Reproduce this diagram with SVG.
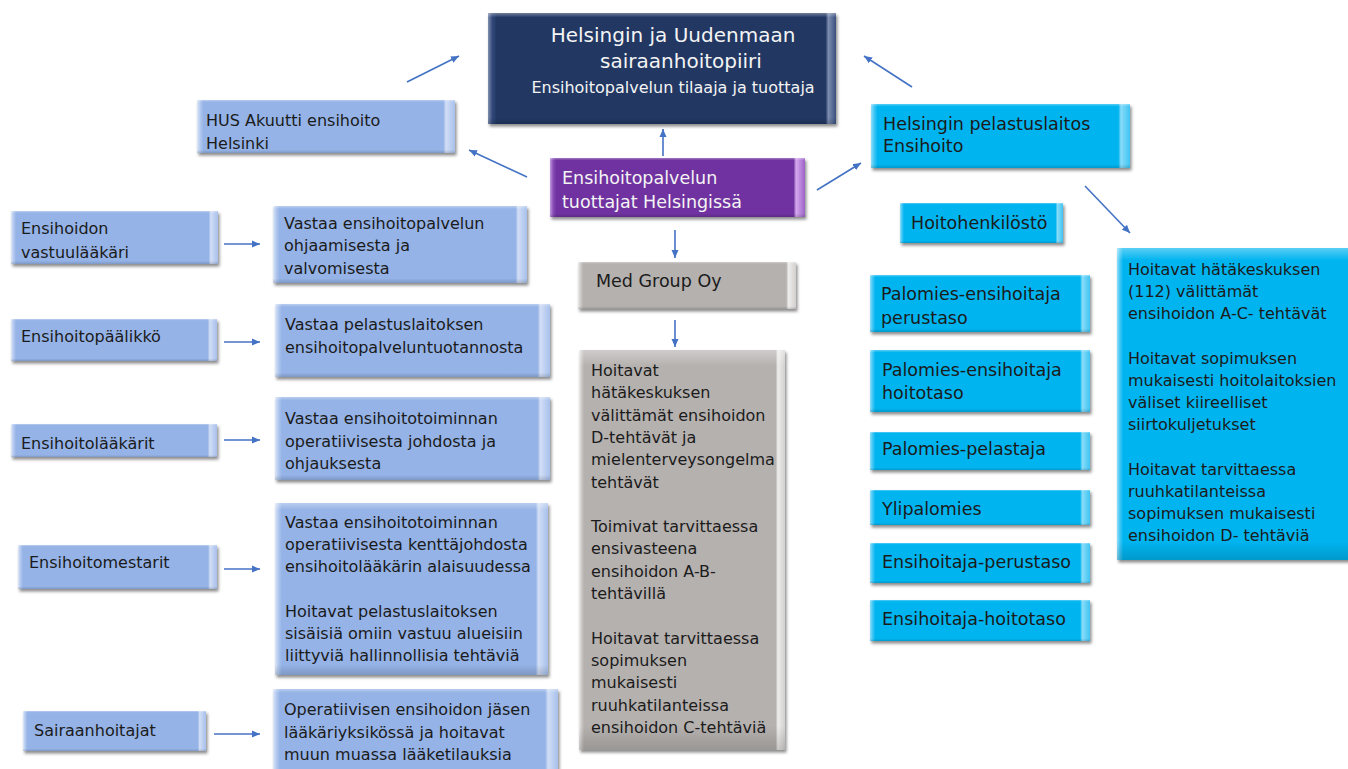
<svg xmlns="http://www.w3.org/2000/svg" width="1348" height="769" viewBox="0 0 1348 769">
<style>
text{font-family:"DejaVu Sans","Liberation Sans",sans-serif;fill:#1b1b1b;font-size:16px}
.w{fill:#f4f4f4}
.big{font-size:17.5px}
.t20{font-size:20px}
.box{filter:url(#sh)}
.lb{fill:url(#gLb)}
.cy{fill:url(#gCy)}
.gr{fill:url(#gGr)}
.pu{fill:url(#gPu)}
.nv{fill:url(#gNv)}
.top{fill:url(#gTop)}
.con line{stroke:#4472C4;stroke-width:1.6;marker-end:url(#ah)}
</style>
<defs>
<filter id="sh" x="-10%" y="-10%" width="125%" height="130%">
<feDropShadow dx="1.5" dy="2.5" stdDeviation="1.5" flood-color="#000" flood-opacity="0.45"/>
</filter>
<linearGradient id="gLb" x1="0" y1="0" x2="1" y2="0">
<stop offset="0" stop-color="#dfe8f8"/><stop offset="0.012" stop-color="#b3c9ee"/><stop offset="0.025" stop-color="#95B3E7"/><stop offset="0.955" stop-color="#95B3E7"/><stop offset="0.965" stop-color="#d2def5"/><stop offset="1" stop-color="#a7c0ec"/>
</linearGradient>
<linearGradient id="gCy" x1="0" y1="0" x2="1" y2="0">
<stop offset="0" stop-color="#8fe0fb"/><stop offset="0.012" stop-color="#40c6f4"/><stop offset="0.025" stop-color="#00B4F0"/><stop offset="0.955" stop-color="#00B4F0"/><stop offset="0.965" stop-color="#8adcf8"/><stop offset="1" stop-color="#3fc4f3"/>
</linearGradient>
<linearGradient id="gGr" x1="0" y1="0" x2="1" y2="0">
<stop offset="0" stop-color="#ecebea"/><stop offset="0.012" stop-color="#cdcac8"/><stop offset="0.025" stop-color="#B5B1AF"/><stop offset="0.955" stop-color="#B5B1AF"/><stop offset="0.965" stop-color="#eeedec"/><stop offset="1" stop-color="#d3d0cf"/>
</linearGradient>
<linearGradient id="gPu" x1="0" y1="0" x2="1" y2="0">
<stop offset="0" stop-color="#c39be0"/><stop offset="0.012" stop-color="#8a4fb8"/><stop offset="0.025" stop-color="#7030A0"/><stop offset="0.955" stop-color="#7030A0"/><stop offset="0.965" stop-color="#d6a9ef"/><stop offset="1" stop-color="#9c62c8"/>
</linearGradient>
<linearGradient id="gNv" x1="0" y1="0" x2="1" y2="0">
<stop offset="0" stop-color="#8090b0"/><stop offset="0.012" stop-color="#34497a"/><stop offset="0.025" stop-color="#203864"/><stop offset="0.97" stop-color="#203864"/><stop offset="0.978" stop-color="#7d8db0"/><stop offset="1" stop-color="#3a507e"/>
</linearGradient>
<linearGradient id="gTop" x1="0" y1="0" x2="0" y2="1">
<stop offset="0" stop-color="#fff" stop-opacity="0.35"/><stop offset="0.04" stop-color="#fff" stop-opacity="0"/><stop offset="0.94" stop-color="#000" stop-opacity="0"/><stop offset="1" stop-color="#000" stop-opacity="0.15"/>
</linearGradient>
<marker id="ah" markerUnits="userSpaceOnUse" markerWidth="9" markerHeight="8" refX="8" refY="4" orient="auto">
<path d="M0,0.5 L8,4 L0,7.5 z" fill="#4472C4"/>
</marker>
</defs>

<g id="connectors" class="con">
<line x1="407" y1="82" x2="459" y2="56"/>
<line x1="527" y1="177" x2="469" y2="150"/>
<line x1="663" y1="156" x2="663" y2="129"/>
<line x1="817" y1="190" x2="861" y2="163"/>
<line x1="912" y1="87" x2="864" y2="56"/>
<line x1="675" y1="230" x2="675" y2="258"/>
<line x1="675" y1="320" x2="675" y2="347"/>
<line x1="1085" y1="186" x2="1130" y2="233"/>
<line x1="224" y1="244" x2="260" y2="244"/>
<line x1="224" y1="342" x2="260" y2="342"/>
<line x1="224" y1="440" x2="260" y2="440"/>
<line x1="224" y1="569" x2="260" y2="569"/>
<line x1="214" y1="734" x2="260" y2="734"/>
</g>

<g id="hus-piiri">
<rect class="box nv" x="488" y="13" width="348" height="111"/>
<rect class="top" x="488" y="13" width="348" height="111"/>
<text class="w t20" x="673" y="42" text-anchor="middle">Helsingin ja Uudenmaan</text>
<text class="w t20" x="681" y="68" text-anchor="middle">sairaanhoitopiiri</text>
<text class="w" x="673" y="93" text-anchor="middle">Ensihoitopalvelun tilaaja ja tuottaja</text>
</g>

<g id="hus-akuutti">
<rect class="box lb" x="197" y="100" width="258" height="53"/>
<rect class="top" x="197" y="100" width="258" height="53"/>
<text x="206" y="126">HUS Akuutti ensihoito<tspan x="206" y="149">Helsinki</tspan></text>
</g>

<g id="tuottajat">
<rect class="box pu" x="550" y="158" width="255" height="59"/>
<rect class="top" x="550" y="158" width="255" height="59"/>
<text class="w big" x="562" y="184">Ensihoitopalvelun<tspan x="562" y="208">tuottajat Helsingissä</tspan></text>
</g>

<g id="pelastuslaitos">
<rect class="box cy" x="871" y="104" width="259" height="64"/>
<rect class="top" x="871" y="104" width="259" height="64"/>
<text class="big" x="883" y="129.5">Helsingin pelastuslaitos<tspan x="883" y="151.5">Ensihoito</tspan></text>
</g>

<g id="hoitohenkilosto">
<rect class="box cy" x="900" y="203" width="163" height="40"/>
<rect class="top" x="900" y="203" width="163" height="40"/>
<text class="big" x="911" y="228.5">Hoitohenkilöstö</text>
</g>

<g id="pe-perustaso">
<rect class="box cy" x="870" y="275" width="220" height="57"/>
<rect class="top" x="870" y="275" width="220" height="57"/>
<text class="big" x="881" y="299.5">Palomies-ensihoitaja<tspan x="881" y="323.5">perustaso</tspan></text>
</g>

<g id="pe-hoitotaso">
<rect class="box cy" x="870" y="350" width="220" height="62"/>
<rect class="top" x="870" y="350" width="220" height="62"/>
<text class="big" x="882" y="375.5">Palomies-ensihoitaja<tspan x="882" y="398.5">hoitotaso</tspan></text>
</g>

<g id="palomies-pelastaja">
<rect class="box cy" x="870" y="432" width="220" height="38"/>
<rect class="top" x="870" y="432" width="220" height="38"/>
<text class="big" x="882" y="454.5">Palomies-pelastaja</text>
</g>

<g id="ylipalomies">
<rect class="box cy" x="870" y="490" width="220" height="35"/>
<rect class="top" x="870" y="490" width="220" height="35"/>
<text class="big" x="882" y="514.5">Ylipalomies</text>
</g>

<g id="ensihoitaja-perustaso">
<rect class="box cy" x="870" y="543" width="220" height="40"/>
<rect class="top" x="870" y="543" width="220" height="40"/>
<text class="big" x="882" y="567.5">Ensihoitaja-perustaso</text>
</g>

<g id="ensihoitaja-hoitotaso">
<rect class="box cy" x="870" y="600" width="220" height="41"/>
<rect class="top" x="870" y="600" width="220" height="41"/>
<text class="big" x="882" y="624.5">Ensihoitaja-hoitotaso</text>
</g>

<g id="pelastus-tehtavat">
<rect class="box cy" x="1117" y="248" width="250" height="312"/>
<rect class="top" x="1117" y="248" width="250" height="312"/>
<text x="1128" y="275">Hoitavat hätäkeskuksen<tspan x="1128" dy="22.2">(112) välittämät</tspan><tspan x="1128" dy="22.2">ensihoidon A-C- tehtävät</tspan><tspan x="1128" dy="44.4">Hoitavat sopimuksen</tspan><tspan x="1128" dy="22.2">mukaisesti hoitolaitoksien</tspan><tspan x="1128" dy="22.2">väliset kiireelliset</tspan><tspan x="1128" dy="22.2">siirtokuljetukset</tspan><tspan x="1128" dy="44.4">Hoitavat tarvittaessa</tspan><tspan x="1128" dy="22.2">ruuhkatilanteissa</tspan><tspan x="1128" dy="22.2">sopimuksen mukaisesti</tspan><tspan x="1128" dy="22.2">ensihoidon D- tehtäviä</tspan></text>
</g>

<g id="med-group">
<rect class="box gr" x="578" y="262" width="218" height="47"/>
<rect class="top" x="578" y="262" width="218" height="47"/>
<text class="big" x="596" y="286.5">Med Group Oy</text>
</g>

<g id="med-group-tehtavat">
<rect class="box gr" x="579" y="350" width="206" height="400"/>
<rect class="top" x="579" y="350" width="206" height="400"/>
<text x="591" y="376">Hoitavat<tspan x="591" dy="22.3">hätäkeskuksen</tspan><tspan x="591" dy="22.3">välittämät ensihoidon</tspan><tspan x="591" dy="22.3">D-tehtävät ja</tspan><tspan x="591" dy="22.3">mielenterveysongelma</tspan><tspan x="591" dy="22.3">tehtävät</tspan><tspan x="591" dy="44.6">Toimivat tarvittaessa</tspan><tspan x="591" dy="22.3">ensivasteena</tspan><tspan x="591" dy="22.3">ensihoidon A-B-</tspan><tspan x="591" dy="22.3">tehtävillä</tspan><tspan x="591" dy="44.6">Hoitavat tarvittaessa</tspan><tspan x="591" dy="22.3">sopimuksen</tspan><tspan x="591" dy="22.3">mukaisesti</tspan><tspan x="591" dy="22.3">ruuhkatilanteissa</tspan><tspan x="591" dy="22.3">ensihoidon C-tehtäviä</tspan></text>
</g>

<g id="vastuulaakari">
<rect class="box lb" x="11" y="211" width="207" height="53"/>
<rect class="top" x="11" y="211" width="207" height="53"/>
<text x="21" y="233.5">Ensihoidon<tspan x="21" y="257.5">vastuulääkäri</tspan></text>
</g>

<g id="vastuulaakari-tehtava">
<rect class="box lb" x="273" y="206" width="254" height="77"/>
<rect class="top" x="273" y="206" width="254" height="77"/>
<text x="284" y="228.5">Vastaa ensihoitopalvelun<tspan x="284" y="251">ohjaamisesta ja</tspan><tspan x="284" y="273.5">valvomisesta</tspan></text>
</g>

<g id="ensihoitopaalikko">
<rect class="box lb" x="11" y="319" width="206" height="42"/>
<rect class="top" x="11" y="319" width="206" height="42"/>
<text x="21" y="342">Ensihoitopäälikkö</text>
</g>

<g id="ensihoitopaalikko-tehtava">
<rect class="box lb" x="275" y="304" width="275" height="73"/>
<rect class="top" x="275" y="304" width="275" height="73"/>
<text x="285" y="330">Vastaa pelastuslaitoksen<tspan x="285" y="353">ensihoitopalveluntuotannosta</tspan></text>
</g>

<g id="ensihoitolaakarit">
<rect class="box lb" x="11" y="424" width="206" height="33"/>
<rect class="top" x="11" y="424" width="206" height="33"/>
<text x="21" y="448.5">Ensihoitolääkärit</text>
</g>

<g id="ensihoitolaakarit-tehtava">
<rect class="box lb" x="275" y="397" width="275" height="83"/>
<rect class="top" x="275" y="397" width="275" height="83"/>
<text x="285" y="424">Vastaa ensihoitotoiminnan<tspan x="285" y="447">operatiivisesta johdosta ja</tspan><tspan x="285" y="469">ohjauksesta</tspan></text>
</g>

<g id="ensihoitomestarit">
<rect class="box lb" x="18" y="545" width="199" height="44"/>
<rect class="top" x="18" y="545" width="199" height="44"/>
<text x="29" y="568">Ensihoitomestarit</text>
</g>

<g id="ensihoitomestarit-tehtava">
<rect class="box lb" x="275" y="503" width="273" height="172"/>
<rect class="top" x="275" y="503" width="273" height="172"/>
<text x="285" y="528">Vastaa ensihoitotoiminnan<tspan x="285" dy="22.2">operatiivisesta kenttäjohdosta</tspan><tspan x="285" dy="22.2">ensihoitolääkärin alaisuudessa</tspan><tspan x="285" dy="44.4">Hoitavat pelastuslaitoksen</tspan><tspan x="285" dy="22.2">sisäisiä omiin vastuu alueisiin</tspan><tspan x="285" dy="22.2">liittyviä hallinnollisia tehtäviä</tspan></text>
</g>

<g id="sairaanhoitajat">
<rect class="box lb" x="23" y="711" width="183" height="40"/>
<rect class="top" x="23" y="711" width="183" height="40"/>
<text x="34" y="736">Sairaanhoitajat</text>
</g>

<g id="sairaanhoitajat-tehtava">
<rect class="box lb" x="273" y="689" width="285" height="95"/>
<rect class="top" x="273" y="689" width="285" height="95"/>
<text x="284" y="715">Operatiivisen ensihoidon jäsen<tspan x="284" y="737.5">lääkäriyksikössä ja hoitavat</tspan><tspan x="284" y="760">muun muassa lääketilauksia</tspan></text>
</g>
</svg>
